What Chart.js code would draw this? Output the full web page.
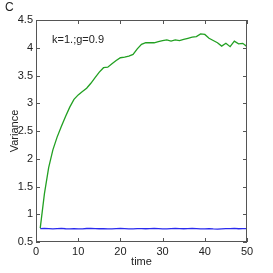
<!DOCTYPE html>
<html>
<head>
<meta charset="utf-8">
<script src="https://cdn.jsdelivr.net/npm/chart.js@4"></script>
<style>
  html, body { margin: 0; padding: 0; background: #fff; }
  #wrap { width: 273px; height: 273px; }
</style>
</head>
<body>
<div id="wrap"><canvas id="mainChart" width="273" height="273"></canvas></div>
<script>
const timeSteps = [1, 2, 3, 4, 5, 6, 7, 8, 9, 10,
  11, 12, 13, 14, 15, 16, 17, 18, 19, 20,
  21, 22, 23, 24, 25, 26, 27, 28, 29, 30,
  31, 32, 33, 34, 35, 36, 37, 38, 39, 40,
  41, 42, 43, 44, 45, 46, 47, 48, 49, 50];

const greenVariance = [0.75, 1.37, 1.84, 2.16, 2.39, 2.58, 2.76, 2.93, 3.07, 3.15,
  3.21, 3.27, 3.36, 3.46, 3.56, 3.64, 3.65, 3.71, 3.77, 3.82,
  3.83, 3.85, 3.88, 3.98, 4.06, 4.09, 4.09, 4.09, 4.11, 4.13,
  4.14, 4.12, 4.14, 4.13, 4.15, 4.17, 4.19, 4.2, 4.25, 4.24,
  4.17, 4.13, 4.09, 4.03, 4.08, 4.02, 4.12, 4.07, 4.08, 4.02];

const blueVariance = [0.74, 0.745, 0.742, 0.738, 0.741, 0.744, 0.739, 0.737, 0.74, 0.736,
  0.738, 0.743, 0.746, 0.741, 0.739, 0.742, 0.738, 0.736, 0.74, 0.743,
  0.741, 0.738, 0.737, 0.74, 0.742, 0.739, 0.741, 0.744, 0.742, 0.738,
  0.737, 0.74, 0.743, 0.741, 0.739, 0.742, 0.745, 0.741, 0.736, 0.738,
  0.741, 0.735, 0.733, 0.737, 0.74, 0.742, 0.744, 0.739, 0.74, 0.741];

const xTicks = [0, 10, 20, 30, 40, 50];
const yTicks = [0.5, 1, 1.5, 2, 2.5, 3, 3.5, 4, 4.5];

const panelLabel = 'C';
const noteText = 'k=1.;g=0.9';
const notePos = { x: 3.8, y: 4.14 };

const fontFamily = '"Liberation Sans", Arial, sans-serif';
const axisColor = '#555';

function toPoints(values) {
  return timeSteps.map((t, i) => ({ x: t, y: values[i] }));
}

const extras = {
  id: 'extras',
  afterDraw(chart) {
    const c = chart.ctx;
    const xs = chart.scales.x;
    const ys = chart.scales.y;
    const area = chart.chartArea;
    c.save();
    c.strokeStyle = axisColor;
    c.lineWidth = 1;
    c.strokeRect(area.left + 0.5, area.top + 0.5, area.right - area.left - 1, area.bottom - area.top - 1);
    c.beginPath();
    xTicks.forEach((v) => {
      const px = Math.round(xs.getPixelForValue(v)) + 0.5;
      c.moveTo(px, area.bottom);
      c.lineTo(px, area.bottom - 4);
      c.moveTo(px, area.top);
      c.lineTo(px, area.top + 4);
    });
    yTicks.forEach((v) => {
      const py = Math.round(ys.getPixelForValue(v)) + 0.5;
      c.moveTo(area.left, py);
      c.lineTo(area.left + 4, py);
      c.moveTo(area.right, py);
      c.lineTo(area.right - 4, py);
    });
    c.stroke();

    c.fillStyle = '#222';
    c.font = '12px ' + fontFamily;
    c.textBaseline = 'top';
    c.textAlign = 'left';
    c.fillText(panelLabel, 5, 2);

    c.font = '11px ' + fontFamily;
    c.textBaseline = 'middle';
    c.fillText(noteText, xs.getPixelForValue(notePos.x), ys.getPixelForValue(notePos.y));
    c.restore();
  },
};

const ctx = document.getElementById('mainChart').getContext('2d');

new Chart(ctx, {
  type: 'line',
  data: {
    datasets: [
      {
        label: 'green',
        data: toPoints(greenVariance),
        borderColor: '#22a022',
        borderWidth: 1.3,
        pointRadius: 0,
        tension: 0,
      },
      {
        label: 'blue',
        data: toPoints(blueVariance),
        borderColor: '#2a2aee',
        borderWidth: 1.3,
        pointRadius: 0,
        tension: 0,
      },
    ],
  },
  options: {
    responsive: false,
    animation: false,
    layout: { padding: { top: 20, right: 26, left: 0, bottom: 0 } },
    plugins: {
      legend: { display: false },
      tooltip: { enabled: false },
    },
    scales: {
      x: {
        type: 'linear',
        min: 0,
        max: 50,
        afterBuildTicks: (scale) => { scale.ticks = xTicks.map((v) => ({ value: v })); },
        afterFit: (scale) => { scale.height = 31; },
        grid: { display: false, drawTicks: false },
        border: { display: false },
        ticks: { color: '#222', padding: 3, maxRotation: 0, callback: (v) => String(v), font: { family: fontFamily, size: 11 } },
        title: { display: true, text: 'time', color: '#222', padding: { top: 0, bottom: 4 }, font: { family: fontFamily, size: 11 } },
      },
      y: {
        type: 'linear',
        min: 0.5,
        max: 4.5,
        afterBuildTicks: (scale) => { scale.ticks = yTicks.map((v) => ({ value: v })); },
        afterFit: (scale) => { scale.width = 36; },
        grid: { display: false, drawTicks: false },
        border: { display: false },
        ticks: { color: '#222', padding: 3, callback: (v) => String(v), font: { family: fontFamily, size: 11 } },
        title: { display: true, text: 'Variance', color: '#222', padding: { top: 8, bottom: 0 }, font: { family: fontFamily, size: 11 } },
      },
    },
  },
  plugins: [extras],
});
</script>
</body>
</html>
